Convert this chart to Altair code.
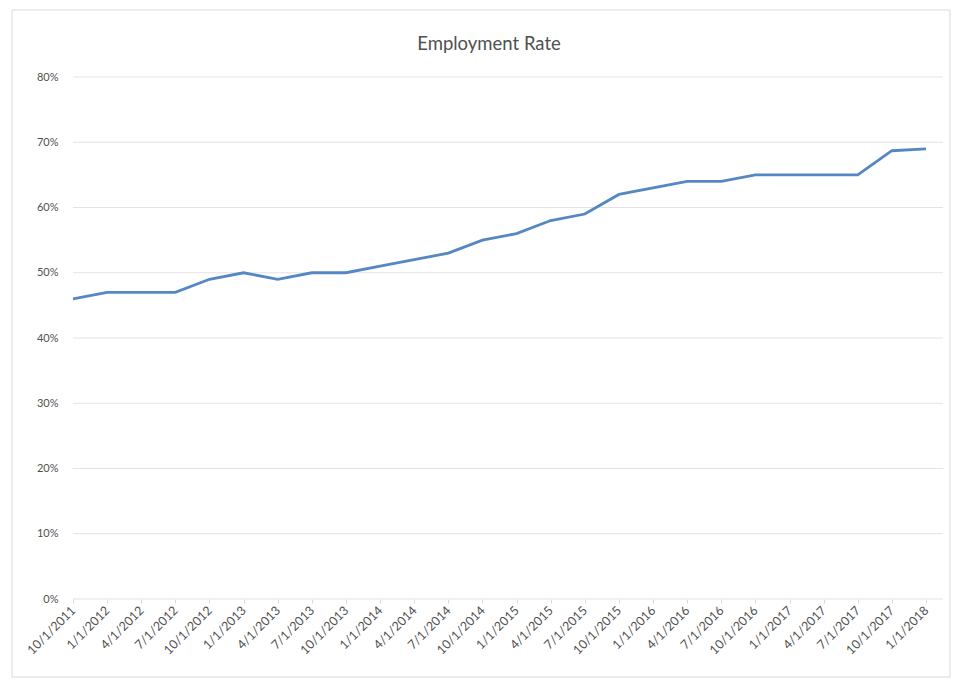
import altair as alt
import pandas as pd

quarters = ["10/1/2011", "1/1/2012", "4/1/2012", "7/1/2012", "10/1/2012", "1/1/2013",
            "4/1/2013", "7/1/2013", "10/1/2013", "1/1/2014", "4/1/2014", "7/1/2014",
            "10/1/2014", "1/1/2015", "4/1/2015", "7/1/2015", "10/1/2015", "1/1/2016",
            "4/1/2016", "7/1/2016", "10/1/2016", "1/1/2017", "4/1/2017", "7/1/2017",
            "10/1/2017", "1/1/2018"]
rates = [0.46, 0.47, 0.47, 0.47, 0.49, 0.50, 0.49, 0.50, 0.50, 0.51, 0.52, 0.53,
         0.55, 0.56, 0.58, 0.59, 0.62, 0.63, 0.64, 0.64, 0.65, 0.65, 0.65, 0.65,
         0.687, 0.69]
y_ticks = [0, 0.1, 0.2, 0.3, 0.4, 0.5, 0.6, 0.7, 0.8]
title_text = "Employment Rate"

df = pd.DataFrame({"Quarter": quarters, "Rate": rates})
grid_df = pd.DataFrame({"Rate": y_ticks})

FONT = "Lato"
TEXT = "#505050"
GRID = "#e3e3e3"

y_scale = alt.Scale(domain=[0, 0.8])
y_axis = alt.Axis(format=".0%", values=y_ticks, labelFontSize=11,
                  labelColor=TEXT, labelFont=FONT, labelPadding=15,
                  domain=False, ticks=False, grid=False)

grid = alt.Chart(grid_df).mark_rule(color=GRID, strokeWidth=1).encode(
    y=alt.Y("Rate:Q", scale=y_scale, title=None, axis=y_axis),
    x=alt.value(0), x2=alt.value(870),
)

line = alt.Chart(df).mark_line(color="#5588c2", strokeWidth=2.8).encode(
    x=alt.X("Quarter:O", sort=None, title=None,
            scale=alt.Scale(type="point", range=[0, 853], padding=0),
            axis=alt.Axis(labelAngle=-45, labelAlign="right", labelBaseline="middle",
                          labelFontSize=12.5, labelColor=TEXT, labelFont=FONT,
                          labelPadding=5, domain=False, tickColor="#d9d9d9",
                          tickSize=4, grid=False)),
    y=alt.Y("Rate:Q", scale=y_scale, title=None, axis=y_axis),
)

border = alt.Chart(pd.DataFrame({"b": [0]})).mark_rect(
    fill="transparent", stroke="#d9d9d9", strokeWidth=1
).encode(x=alt.value(-61), x2=alt.value(877), y=alt.value(-67), y2=alt.value(600))

title = alt.Chart(pd.DataFrame({"t": [title_text]})).mark_text(
    font=FONT, fontSize=18.5, color=TEXT, align="center", baseline="alphabetic"
).encode(text="t:N", x=alt.value(416), y=alt.value(-27))

chart = alt.layer(border, grid, line, title).properties(
    width=868, height=522,
    background="white",
    padding={"left": 73, "top": 77, "right": 15, "bottom": 85},
    autosize=alt.AutoSizeParams(type="none"),
).configure_view(strokeWidth=0, stroke="transparent")

chart.save("out.html", embed_options={"renderer": "svg", "actions": False})
